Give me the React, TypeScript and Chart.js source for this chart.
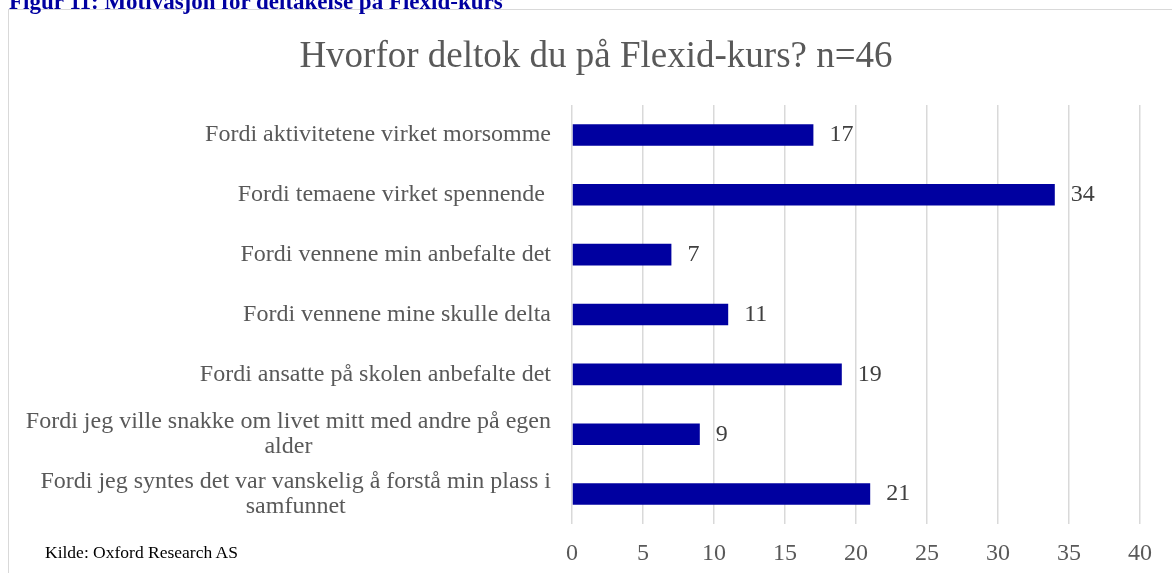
import React, { useEffect, useRef } from "react";
import { Chart, registerables } from "chart.js";

Chart.register(...registerables);

const FONT = "'Liberation Serif', 'Times New Roman', serif";

const captionText = "Figur 11: Motivasjon for deltakelse på Flexid-kurs";
const titleText = "Hvorfor deltok du på Flexid-kurs? n=46";
const sourceText = "Kilde: Oxford Research AS";

const categories: string[][] = [
  ["Fordi aktivitetene virket morsomme"],
  ["Fordi temaene virket spennende "],
  ["Fordi vennene min anbefalte det"],
  ["Fordi vennene mine skulle delta"],
  ["Fordi ansatte på skolen anbefalte det"],
  ["Fordi jeg ville snakke om livet mitt med andre på egen", "alder"],
  ["Fordi jeg syntes det var vanskelig å forstå min plass i", "samfunnet"],
];

const values: number[] = [17, 34, 7, 11, 19, 9, 21];

const xMin = 0;
const xMax = 40;
const xStep = 5;

const categoryLabelsPlugin = {
  id: "categoryLabels",
  afterDraw(chart: any) {
    const ctx = chart.ctx as CanvasRenderingContext2D;
    const yScale = chart.scales.y;
    const right = chart.chartArea.left - 21;
    ctx.save();
    ctx.font = `24px ${FONT}`;
    ctx.fillStyle = "#595959";
    ctx.textBaseline = "middle";
    ctx.textAlign = "center";
    const lh = 25;
    categories.forEach((lines, i) => {
      const cy = yScale.getPixelForValue(i);
      const maxW = Math.max(...lines.map((l) => ctx.measureText(l).width));
      const cx = right - maxW / 2;
      lines.forEach((l, j) => {
        const ly = cy + (j - (lines.length - 1) / 2) * lh;
        ctx.fillText(l, cx, ly);
      });
    });
    ctx.restore();
  },
};

const valueLabelsPlugin = {
  id: "valueLabels",
  afterDatasetsDraw(chart: any) {
    const ctx = chart.ctx as CanvasRenderingContext2D;
    const meta = chart.getDatasetMeta(0);
    ctx.save();
    ctx.font = `24px ${FONT}`;
    ctx.fillStyle = "#404040";
    ctx.textBaseline = "middle";
    ctx.textAlign = "left";
    meta.data.forEach((bar: any, i: number) => {
      ctx.fillText(String(values[i]), bar.x + 16, bar.y);
    });
    ctx.restore();
  },
};

export default function App() {
  const canvasRef = useRef<HTMLCanvasElement | null>(null);

  useEffect(() => {
    if (!canvasRef.current) return;
    const chart = new Chart(canvasRef.current, {
      type: "bar",
      data: {
        labels: categories.map((c) => c.join(" ")),
        datasets: [
          {
            data: values,
            backgroundColor: "#0000A0",
            borderWidth: 0,
            barPercentage: 0.9,
            categoryPercentage: 0.4,
          },
        ],
      },
      options: {
        indexAxis: "y",
        animation: false,
        responsive: true,
        maintainAspectRatio: false,
        layout: { padding: { left: 43, right: 43, top: 0, bottom: 10 } },
        plugins: {
          legend: { display: false },
          tooltip: { enabled: false },
          title: {
            display: true,
            text: titleText,
            color: "#595959",
            font: { family: FONT, size: 37, weight: "normal" },
            padding: { top: 25, bottom: 25.6 },
          },
        },
        scales: {
          x: {
            type: "linear",
            min: xMin,
            max: xMax,
            ticks: {
              stepSize: xStep,
              color: "#595959",
              font: { family: FONT, size: 24 },
              padding: 15,
            },
            grid: { color: "#d9d9d9", lineWidth: 1.5, drawTicks: false },
            border: { display: false },
            afterFit(scale: any) {
              scale.height = 42;
            },
          },
          y: {
            type: "category",
            ticks: { display: false },
            grid: { display: false },
            border: { display: false },
            afterFit(scale: any) {
              scale.width = 520;
            },
          },
        },
      },
      plugins: [categoryLabelsPlugin, valueLabelsPlugin],
    } as any);
    return () => chart.destroy();
  }, []);

  return (
    <div
      style={{
        position: "fixed",
        left: 0,
        top: 0,
        width: 1172,
        height: 573,
        overflow: "hidden",
        background: "#fff",
      }}
    >
      <div
        style={{
          position: "absolute",
          left: 8,
          top: 9,
          width: 1200,
          height: 620,
          border: "1px solid #d9d9d9",
          boxSizing: "border-box",
        }}
      >
        <div style={{ position: "absolute", left: 0, top: 0, width: 1174, height: 566 }}>
          <canvas ref={canvasRef} />
        </div>
      </div>
      <div
        style={{
          position: "absolute",
          left: 9,
          top: -10,
          fontFamily: FONT,
          fontSize: 23,
          lineHeight: "23px",
          fontWeight: "bold",
          color: "#0000A0",
          whiteSpace: "nowrap",
        }}
      >
        {captionText}
      </div>
      <div
        style={{
          position: "absolute",
          left: 45,
          top: 542,
          fontFamily: FONT,
          fontSize: 17.5,
          lineHeight: "20px",
          color: "#000",
          whiteSpace: "nowrap",
        }}
      >
        {sourceText}
      </div>
    </div>
  );
}
